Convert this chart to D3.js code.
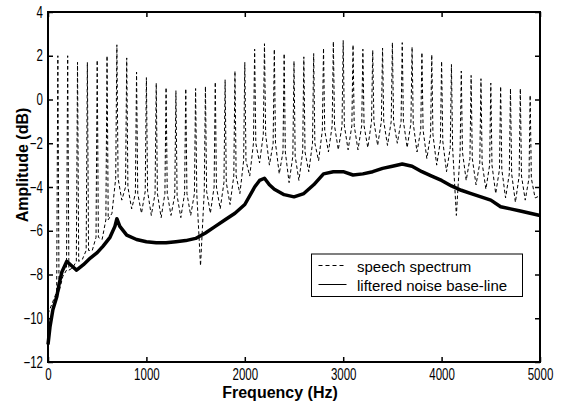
<!DOCTYPE html>
<html lang="en">
<head>
    <meta charset="UTF-8">
    <title>Speech spectrum and liftered noise base-line</title>
    <script src="https://d3js.org/d3.v7.min.js"></script>
    <style>
        body { margin: 0; background: #fff; }
        svg { display: block; font-family: "Liberation Sans", Arial, sans-serif; }
        .axis path { display: none; }
        .axis line { stroke: #000; stroke-width: 1.5; }
        .axis text { font-size: 16px; fill: #000; }
    </style>
</head>
<body>
    <svg width="564" height="403"></svg>
    <script>
        // harmonic peaks of the speech spectrum (Hz, dB)
        const harmonicFreq = [100, 200, 300, 400, 500, 600, 700, 800, 900, 1000,
            1100, 1200, 1300, 1400, 1500, 1600, 1700, 1800, 1900, 2000,
            2100, 2200, 2300, 2400, 2500, 2600, 2700, 2800, 2900, 3000,
            3100, 3200, 3300, 3400, 3500, 3600, 3700, 3800, 3900, 4000,
            4100, 4200, 4300, 4400, 4500, 4600, 4700, 4800, 4900];
        const harmonicPeak = [2.0, 2.0, 1.7, 1.7, 1.8, 2.0, 2.5, 1.9, 1.25, 1.0,
            0.75, 0.55, 0.4, 0.5, 0.5, 0.6, 0.8, 0.9, 1.3, 1.7,
            2.3, 2.55, 2.3, 2.1, 1.75, 1.95, 2.1, 2.35, 2.65, 2.7,
            2.5, 2.3, 2.25, 2.35, 2.6, 2.6, 2.4, 2.15, 2.05, 1.75,
            1.6, 1.3, 1.1, 0.95, 0.75, 0.6, 0.5, 0.5, 0.2];
        // level where each spike leaves the dense band
        const harmonicShoulder = [-8.8, -7.8, -7.4, -6.9, -6.3, -5.5, -3.6, -4.0, -4.3, -4.2,
            -4.3, -4.3, -4.4, -4.3, -4.3, -4.2, -4.0, -3.8, -3.5, -2.8,
            -2.0, -1.6, -2.0, -2.4, -2.6, -2.4, -2.0, -1.4, -1.2, -1.2,
            -1.2, -1.2, -1.0, -1.0, -1.0, -1.0, -1.1, -1.4, -1.6, -1.9,
            -2.2, -2.4, -2.7, -2.9, -3.0, -3.2, -3.4, -3.5, -3.6];
        // troughs between harmonics
        const valleyFreq = [0, 150, 250, 350, 450, 550, 650, 750, 850, 950,
            1050, 1150, 1250, 1350, 1450, 1550, 1650, 1750, 1850, 1950,
            2050, 2150, 2250, 2350, 2450, 2550, 2650, 2750, 2850, 2950,
            3050, 3150, 3250, 3350, 3450, 3550, 3650, 3750, 3850, 3950,
            4050, 4150, 4250, 4350, 4450, 4550, 4650, 4750, 4850, 4950, 5000];
        const valleyAmp = [-9.8, -8.1, -7.7, -7.3, -6.9, -6.4, -5.2, -4.6, -5.0, -5.2,
            -5.3, -5.4, -5.3, -5.4, -5.3, -7.6, -5.2, -5.0, -4.8, -4.3,
            -3.5, -2.9, -3.0, -3.4, -3.8, -3.7, -3.3, -2.8, -2.4, -2.3,
            -2.3, -2.3, -2.2, -2.1, -2.1, -2.0, -2.2, -2.4, -2.7, -3.0,
            -3.3, -5.3, -3.7, -3.9, -4.1, -4.3, -4.5, -4.7, -4.6, -4.5, -4.4];

        // liftered noise base-line
        const baseFreq = [0, 20, 50, 90, 110, 140, 190, 240, 290, 360, 430, 500, 560, 630, 680, 700, 730,
            800, 900, 1000, 1100, 1200, 1300, 1400, 1500, 1600, 1700, 1800, 1900, 2000,
            2100, 2150, 2200, 2250, 2300, 2400, 2500, 2600, 2700, 2800, 2900, 3000,
            3100, 3200, 3300, 3400, 3500, 3600, 3700, 3800, 3900, 4000,
            4100, 4200, 4300, 4400, 4500, 4600, 4700, 4800, 4900, 5000];
        const baseAmp = [-11.2, -10.4, -9.6, -9.0, -8.5, -7.9, -7.4, -7.6, -7.8, -7.55, -7.25, -7.0, -6.7, -6.3, -5.8, -5.45, -5.8,
            -6.2, -6.4, -6.5, -6.55, -6.55, -6.5, -6.45, -6.35, -6.1, -5.8, -5.5, -5.2, -4.8,
            -4.0, -3.7, -3.6, -3.9, -4.1, -4.35, -4.45, -4.3, -3.9, -3.4, -3.3, -3.3,
            -3.45, -3.4, -3.3, -3.15, -3.05, -2.95, -3.05, -3.3, -3.5, -3.7,
            -3.95, -4.15, -4.3, -4.45, -4.6, -4.9, -5.0, -5.1, -5.2, -5.3];

        const freqTicks = [0, 1000, 2000, 3000, 4000, 5000];
        const ampTicks = [-12, -10, -8, -6, -4, -2, 0, 2, 4];
        const legendLabels = ["speech spectrum", "liftered noise base-line"];

        const margin = {top: 12, right: 24, bottom: 41, left: 48},
              width = 564 - margin.left - margin.right,
              height = 403 - margin.top - margin.bottom;

        const svg = d3.select("svg");
        const g = svg.append("g")
            .attr("transform", `translate(${margin.left}, ${margin.top})`);

        const x = d3.scaleLinear().domain([0, 5000]).range([0, width]);
        const y = d3.scaleLinear().domain([-12, 4]).range([height, 0]);

        // spectrum path: valley, shoulder, peak, shoulder, valley ...
        const spec = [[valleyFreq[0], valleyAmp[0]]];
        harmonicFreq.forEach((f, i) => {
            spec.push([f - 12, harmonicShoulder[i]]);
            spec.push([f, harmonicPeak[i]]);
            spec.push([f + 12, harmonicShoulder[i]]);
            spec.push([valleyFreq[i + 1], valleyAmp[i + 1]]);
        });
        spec.push([valleyFreq[valleyFreq.length - 1], valleyAmp[valleyAmp.length - 1]]);

        const line = d3.line().x(d => x(d[0])).y(d => y(d[1]));

        g.append("path")
            .datum(spec)
            .attr("fill", "none")
            .attr("stroke", "#000")
            .attr("stroke-width", 1)
            .attr("stroke-dasharray", "3.5,2.5")
            .attr("d", line);

        g.append("path")
            .datum(baseFreq.map((f, i) => [f, baseAmp[i]]))
            .attr("fill", "none")
            .attr("stroke", "#000")
            .attr("stroke-width", 3.5)
            .attr("stroke-linejoin", "round")
            .attr("d", line);

        // axes, ticks pointing in (matlab style)
        const squeeze = 0.72;

        const xAxis = g.append("g")
            .attr("class", "axis")
            .attr("transform", `translate(0, ${height})`)
            .call(d3.axisBottom(x).tickValues(freqTicks).tickFormat(d3.format("d"))
                .tickSizeInner(-5).tickSizeOuter(0).tickPadding(7));
        xAxis.selectAll("text").attr("transform", `scale(${squeeze},1)`);

        const yAxis = g.append("g")
            .attr("class", "axis")
            .call(d3.axisLeft(y).tickValues(ampTicks).tickSizeInner(-5).tickSizeOuter(0).tickPadding(5));
        yAxis.selectAll("text")
            .attr("x", -5 / squeeze)
            .attr("transform", `scale(${squeeze},1)`);

        g.append("g")
            .attr("class", "axis")
            .call(d3.axisTop(x).tickValues(freqTicks).tickSizeInner(-5).tickSizeOuter(0).tickFormat(""));

        g.append("g")
            .attr("class", "axis")
            .attr("transform", `translate(${width}, 0)`)
            .call(d3.axisRight(y).tickValues(ampTicks).tickSizeInner(-5).tickSizeOuter(0).tickFormat(""));

        g.append("rect")
            .attr("width", width)
            .attr("height", height)
            .attr("fill", "none")
            .attr("stroke", "#000")
            .attr("stroke-width", 2);

        // axis titles
        svg.append("text")
            .attr("x", 280)
            .attr("y", 398)
            .attr("text-anchor", "middle")
            .attr("font-size", 16)
            .attr("font-weight", "bold")
            .text("Frequency (Hz)");

        svg.append("text")
            .attr("transform", "translate(28, 165) rotate(-90)")
            .attr("text-anchor", "middle")
            .attr("font-size", 16)
            .attr("font-weight", "bold")
            .text("Amplitude (dB)");

        // legend
        const legend = svg.append("g").attr("transform", "translate(311.5, 254)");
        legend.append("rect")
            .attr("width", 211)
            .attr("height", 42.5)
            .attr("fill", "#fff")
            .attr("stroke", "#000")
            .attr("stroke-width", 1);

        legendLabels.forEach((label, i) => {
            const ly = 11.5 + i * 19;
            legend.append("line")
                .attr("x1", 7).attr("x2", 35)
                .attr("y1", ly).attr("y2", ly)
                .attr("stroke", "#000")
                .attr("stroke-width", 1)
                .attr("stroke-dasharray", i === 0 ? "4,3" : null);
            legend.append("text")
                .attr("x", 45.5)
                .attr("y", ly + 6)
                .attr("font-size", 15)
                .text(label);
        });
    </script>
</body>
</html>
